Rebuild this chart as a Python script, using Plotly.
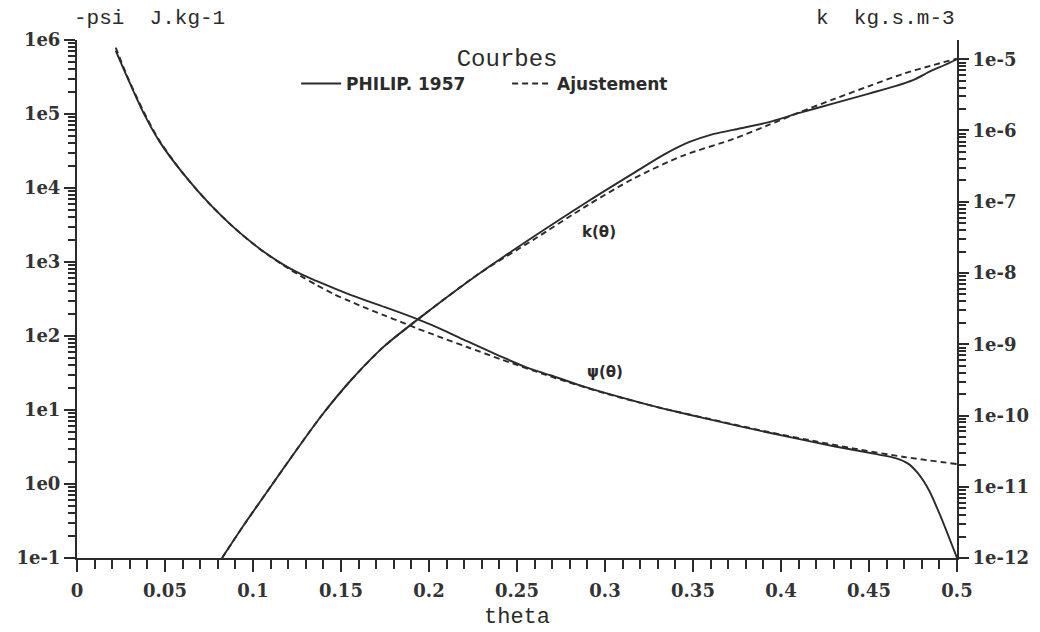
import plotly.graph_objects as go

# ---- data ----
theta_psi_obs = [0.022, 0.0284, 0.0375, 0.047, 0.060, 0.0756, 0.090, 0.104, 0.117, 0.127,
                 0.136, 0.155, 0.175, 0.193, 0.210, 0.2216, 0.240, 0.255, 0.269, 0.285,
                 0.300, 0.320, 0.335, 0.360, 0.392, 0.430, 0.455, 0.465, 0.472, 0.478,
                 0.484, 0.490, 0.500]
psi_obs = [7.2e5, 3.2e5, 1.07e5, 4.2e4, 1.6e4, 6.0e3, 2.8e3, 1.5e3, 930, 690,
           556, 363, 245, 170, 115, 85, 54, 38, 29.5, 21.9,
           17.0, 12.6, 10.2, 7.4, 5.0, 3.24, 2.51, 2.24, 1.9, 1.38,
           0.83, 0.40, 0.1]

theta_psi_fit = [0.022, 0.0284, 0.0375, 0.047, 0.060, 0.0756, 0.090, 0.104, 0.117, 0.127,
                 0.136, 0.146, 0.155, 0.165, 0.175, 0.184, 0.193, 0.2023, 0.2216, 0.2409,
                 0.267, 0.278, 0.300, 0.335, 0.360, 0.392, 0.420, 0.441, 0.470, 0.500]
psi_fit = [7.9e5, 3.3e5, 1.12e5, 4.3e4, 1.6e4, 6.0e3, 2.8e3, 1.49e3, 910, 650,
           490, 367, 295, 234, 188, 155, 127, 105, 71, 48.4,
           29.5, 24.3, 16.8, 10.2, 7.5, 5.1, 3.76, 3.02, 2.32, 1.86]

theta_k_obs = [0.0824, 0.095, 0.110, 0.124, 0.139, 0.155, 0.174, 0.200, 0.229, 0.260,
               0.290, 0.316, 0.335, 0.348, 0.360, 0.373, 0.392, 0.411, 0.430, 0.450,
               0.465, 0.475, 0.485, 0.493, 0.500]
k_obs = [1e-12, 2.95e-12, 1e-11, 3.1e-11, 1e-10, 3.0e-10, 9.1e-10, 2.95e-9, 1e-8, 3.3e-8,
         1e-7, 2.5e-7, 4.8e-7, 6.9e-7, 8.7e-7, 1.02e-6, 1.29e-6, 1.78e-6, 2.4e-6, 3.3e-6,
         4.2e-6, 5.1e-6, 6.8e-6, 8.3e-6, 1e-5]

theta_k_fit = [0.0824, 0.095, 0.110, 0.124, 0.139, 0.155, 0.174, 0.200, 0.229, 0.260,
               0.290, 0.316, 0.344, 0.373, 0.392, 0.411, 0.430, 0.450, 0.469, 0.485, 0.500]
k_fit = [1e-12, 2.95e-12, 1e-11, 3.1e-11, 1e-10, 3.0e-10, 9.1e-10, 2.95e-9, 1e-8, 3.0e-8,
         8.9e-8, 2.1e-7, 4.4e-7, 7.6e-7, 1.17e-6, 1.82e-6, 2.75e-6, 4.2e-6, 6.2e-6, 8.1e-6, 1.02e-5]

psi_tickvals = [1e-1, 1e0, 1e1, 1e2, 1e3, 1e4, 1e5, 1e6]
psi_ticktext = ["1e-1", "1e0", "1e1", "1e2", "1e3", "1e4", "1e5", "1e6"]
k_tickvals = [1e-12, 1e-11, 1e-10, 1e-9, 1e-8, 1e-7, 1e-6, 1e-5]
k_ticktext = ["1e-12", "1e-11", "1e-10", "1e-9", "1e-8", "1e-7", "1e-6", "1e-5"]

name_obs = "PHILIP. 1957"
name_fit = "Ajustement"

# ---- styling ----
INK = "#2b2b2b"
LW = 1.9
DASH = "6px,4px"
TICKFONT = dict(family="DejaVu Serif", size=18, color="#333333", weight="bold")
LINE = dict(color=INK, width=LW, shape="spline", smoothing=0.8)

fig = go.Figure()
fig.add_trace(go.Scatter(x=theta_psi_obs, y=psi_obs, mode="lines", name=name_obs,
                         line=LINE, legendgroup="obs", showlegend=True))
fig.add_trace(go.Scatter(x=theta_psi_fit, y=psi_fit, mode="lines", name=name_fit,
                         line=dict(LINE, dash=DASH), legendgroup="fit", showlegend=True))
fig.add_trace(go.Scatter(x=theta_k_obs, y=k_obs, mode="lines", name=name_obs, yaxis="y2",
                         line=LINE, legendgroup="obs", showlegend=False))
fig.add_trace(go.Scatter(x=theta_k_fit, y=k_fit, mode="lines", name=name_fit, yaxis="y2",
                         line=dict(LINE, dash=DASH), legendgroup="fit", showlegend=False))

fig.update_layout(
    width=1040, height=632,
    margin=dict(l=77, r=83, t=40, b=74, autoexpand=False),
    paper_bgcolor="white", plot_bgcolor="white",
    xaxis=dict(range=[0, 0.5], dtick=0.05, tick0=0, showgrid=False, zeroline=False,
               showline=True, linecolor=INK, linewidth=2,
               ticks="outside", ticklen=12, tickwidth=2, tickcolor=INK,
               tickfont=TICKFONT, ticklabelstandoff=3,
               minor=dict(dtick=0.01, ticks="outside", ticklen=9, tickwidth=1.5, tickcolor=INK,
                          showgrid=False)),
    yaxis=dict(type="log", range=[-1, 6], showgrid=False, zeroline=False,
               showline=True, linecolor=INK, linewidth=2,
               tickmode="array", tickvals=psi_tickvals, ticktext=psi_ticktext,
               ticks="outside", ticklen=11, tickwidth=2, tickcolor=INK,
               tickfont=TICKFONT,
               minor=dict(dtick="D1", ticks="outside", ticklen=7, tickwidth=1.5, tickcolor=INK,
                          showgrid=False)),
    yaxis2=dict(type="log", range=[-12, -4.73], overlaying="y", side="right",
                showgrid=False, zeroline=False,
                showline=True, linecolor=INK, linewidth=2,
                tickmode="array", tickvals=k_tickvals, ticktext=k_ticktext,
                ticks="outside", ticklen=10, tickwidth=2, tickcolor=INK,
                tickfont=TICKFONT,
                minor=dict(dtick="D1", ticks="outside", ticklen=7, tickwidth=1.5, tickcolor=INK,
                           showgrid=False)),
    legend=dict(orientation="h", x=0.249, xanchor="left", y=1.010, yanchor="top",
                bgcolor="rgba(0,0,0,0)",
                font=dict(family="DejaVu Sans", size=17, color=INK, weight="bold"),
                title=dict(text="Courbes", side="top center",
                           font=dict(family="Liberation Mono", size=24, color=INK,
                                     weight="normal")),
                itemwidth=40, entrywidth=156, entrywidthmode="pixels", tracegroupgap=0),
    showlegend=True,
)

fig.add_annotation(text="-psi\u00a0 J.kg-1", xref="paper", yref="paper", x=-0.006, y=1.0,
                   xanchor="left", yanchor="bottom", yshift=8, showarrow=False,
                   font=dict(family="Liberation Mono", size=21, color=INK))
fig.add_annotation(text="k\u00a0 kg.s.m-3", xref="paper", yref="paper", x=1.0, y=1.0,
                   xanchor="right", yanchor="bottom", yshift=8, showarrow=False,
                   font=dict(family="Liberation Mono", size=21, color=INK))
fig.add_annotation(text="theta", xref="paper", yref="paper", x=0.5, y=0,
                   xanchor="center", yanchor="top", yshift=-45, showarrow=False,
                   font=dict(family="Liberation Mono", size=22, color=INK))
fig.add_annotation(text="<b>k(θ)</b>", x=0.2966, y=3.405, xref="x", yref="y",
                   showarrow=False, font=dict(family="DejaVu Sans", size=15, color=INK))
fig.add_annotation(text="<b>ψ(θ)</b>", x=0.300, y=1.514, xref="x", yref="y",
                   showarrow=False, font=dict(family="DejaVu Sans", size=15, color=INK))

# remove the page's default 8px body margin so the figure fills the window exactly
fig.write_html("out.html", config={"displayModeBar": False},
               post_script="document.body.style.margin='0px';")
